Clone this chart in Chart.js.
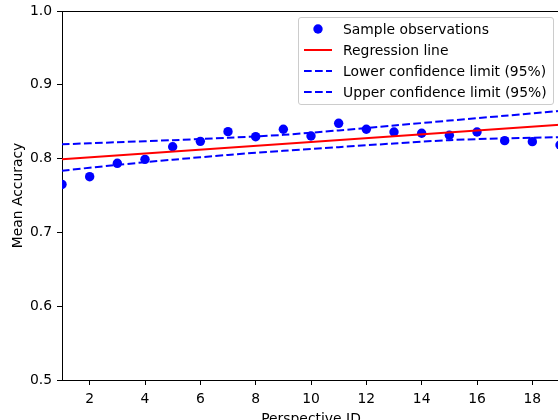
<!DOCTYPE html>
<html>
<head>
<meta charset="utf-8">
<script src="https://cdn.jsdelivr.net/npm/chart.js@4/dist/chart.umd.min.js"></script>
<style>
  html, body { margin: 0; padding: 0; background: #fff; overflow: hidden; }
  #wrap { position: relative; width: 558px; height: 420px; overflow: hidden; }
  #c { position: absolute; left: 0; top: 0; }
  #legend { position: absolute; left: 298px; top: 17px; width: 254px; height: 86px;
    border: 1px solid #cccccc; border-radius: 3px; background: rgba(255,255,255,0.8);
    font-family: 'DejaVu Sans', sans-serif; font-size: 13.9px; color: #000; }
  .row { position: absolute; left: 0; height: 20px; line-height: 20px; white-space: nowrap; }
  .row svg { position: absolute; left: 5px; top: 5px; }
  .row span { position: absolute; left: 44px; top: 0; }
</style>
</head>
<body>
<div id="wrap">
  <canvas id="c" width="570" height="440"></canvas>
  <div id="legend"></div>
</div>
<script>
// ---- data ----
const perspectiveIds = [1, 2, 3, 4, 5, 6, 7, 8, 9, 10, 11, 12, 13, 14, 15, 16, 17, 18, 19];
const meanAccuracy = [0.765, 0.7755, 0.7936, 0.799, 0.816, 0.8234, 0.8365, 0.8297, 0.8397, 0.8306,
                      0.8478, 0.8397, 0.836, 0.8343, 0.8316, 0.836, 0.8243, 0.823, 0.8184];
const regressionX = [1, 19];
const regressionY = [0.799, 0.8458];
const bandX = [1, 3, 5, 7, 9, 11, 13, 15, 17, 19];
const lowerLimit = [0.7836, 0.7915, 0.7985, 0.805, 0.8105, 0.8155, 0.8205, 0.825, 0.8275, 0.829];
const upperLimit = [0.8194, 0.8222, 0.825, 0.8282, 0.8322, 0.8382, 0.8448, 0.8515, 0.858, 0.8646];
const xTickValues = [2, 4, 6, 8, 10, 12, 14, 16, 18];
const yTickValues = [0.5, 0.6, 0.7, 0.8, 0.9, 1.0];
const seriesLabels = ['Sample observations', 'Regression line',
                      'Lower confidence limit (95%)', 'Upper confidence limit (95%)'];
const xTitle = 'Perspective ID';
const yTitle = 'Mean Accuracy';

const FONT = { family: "'DejaVu Sans', sans-serif", size: 13.9 };
const BLUE = '#0000ff', RED = '#ff0000';
const pts = (xs, ys) => xs.map((x, i) => ({ x: x, y: ys[i] }));

const topSpine = {
  id: 'topSpine',
  afterDraw(chart) {
    const a = chart.chartArea, ctx = chart.ctx;
    ctx.save();
    ctx.strokeStyle = '#000'; ctx.lineWidth = 1;
    ctx.beginPath();
    ctx.moveTo(a.left, Math.round(a.top) + 0.5);
    ctx.lineTo(a.right + 20, Math.round(a.top) + 0.5);
    ctx.stroke();
    ctx.restore();
  }
};

new Chart(document.getElementById('c'), {
  type: 'scatter',
  data: {
    datasets: [
      { label: seriesLabels[0], data: pts(perspectiveIds, meanAccuracy), showLine: false,
        pointRadius: 4.7, pointHoverRadius: 4.7, backgroundColor: BLUE, borderWidth: 0, order: 10, clip: 0 },
      { label: seriesLabels[1], data: pts(regressionX, regressionY), showLine: true,
        borderColor: RED, borderWidth: 2, pointRadius: 0, order: 2, clip: 0 },
      { label: seriesLabels[2], data: pts(bandX, lowerLimit), showLine: true, tension: 0.3,
        borderColor: BLUE, borderWidth: 2, borderDash: [7.7, 3.3], pointRadius: 0, order: 1, clip: 0 },
      { label: seriesLabels[3], data: pts(bandX, upperLimit), showLine: true, tension: 0.3,
        borderColor: BLUE, borderWidth: 2, borderDash: [7.7, 3.3], pointRadius: 0, order: 0, clip: 0 }
    ]
  },
  options: {
    responsive: false,
    animation: false,
    devicePixelRatio: 1,
    layout: { padding: { left: 0, right: 10, top: 11, bottom: 0 } },
    plugins: { legend: { display: false }, tooltip: { enabled: false } },
    scales: {
      x: {
        type: 'linear', position: 'bottom', min: 1, max: 19,
        afterBuildTicks: s => { s.ticks = xTickValues.map(v => ({ value: v })); },
        afterFit: s => { s.height = 60; s.paddingLeft = 0; s.paddingRight = 0; },
        ticks: { font: FONT, color: '#000', padding: 6, maxRotation: 0, autoSkip: false,
                 callback: v => String(v) },
        grid: { drawOnChartArea: false, drawTicks: true, tickLength: 5, tickWidth: 1, tickColor: '#000' },
        border: { display: true, color: '#000', width: 1 },
        title: { display: true, text: xTitle, font: FONT, color: '#000', padding: { top: 0, bottom: 12.3 } }
      },
      y: {
        type: 'linear', position: 'left', min: 0.5, max: 1.0,
        afterBuildTicks: s => { s.ticks = yTickValues.map(v => ({ value: v })); },
        afterFit: s => { s.width = 62; s.paddingTop = 0; s.paddingBottom = 0; },
        ticks: { font: FONT, color: '#000', padding: 5, callback: v => Number(v).toFixed(1) },
        grid: { drawOnChartArea: false, drawTicks: true, tickLength: 5, tickWidth: 1, tickColor: '#000' },
        border: { display: true, color: '#000', width: 1 },
        title: { display: true, text: yTitle, font: FONT, color: '#000', padding: { top: 9.6, bottom: 0 } }
      }
    }
  },
  plugins: [topSpine]
});

// ---- HTML legend built from the series labels ----
const legend = document.getElementById('legend');
const handles = [
  '<svg width="28" height="10"><circle cx="14" cy="5" r="4.7" fill="' + BLUE + '"/></svg>',
  '<svg width="28" height="10"><line x1="0" y1="5" x2="28" y2="5" stroke="' + RED + '" stroke-width="2"/></svg>',
  '<svg width="28" height="10"><line x1="0" y1="5" x2="28" y2="5" stroke="' + BLUE + '" stroke-width="2" stroke-dasharray="7.7 3.3"/></svg>',
  '<svg width="28" height="10"><line x1="0" y1="5" x2="28" y2="5" stroke="' + BLUE + '" stroke-width="2" stroke-dasharray="7.7 3.3"/></svg>'
];
const rowCenters = [11, 32, 53, 74];
seriesLabels.forEach((lab, i) => {
  const r = document.createElement('div');
  r.className = 'row';
  r.style.top = (rowCenters[i] - 10) + 'px';
  r.innerHTML = handles[i];
  const s = document.createElement('span');
  s.textContent = lab;
  r.appendChild(s);
  legend.appendChild(r);
});
</script>
</body>
</html>
